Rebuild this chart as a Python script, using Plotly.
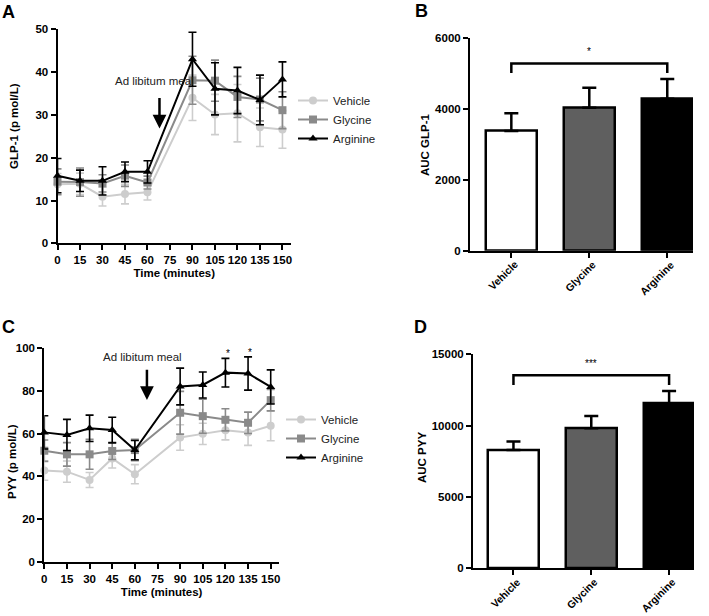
import plotly.graph_objects as go

W, H = 709, 616

# ---------------- data ----------------
time_min = [0, 15, 30, 45, 60, 90, 105, 120, 135, 150]
groups = ["Vehicle", "Glycine", "Arginine"]

glp1_vehicle = [13.8, 13.9, 10.9, 11.5, 11.9, 34.0, 30.1, 30.4, 27.1, 26.6]
glp1_vehicle_sem = [2.5, 2.5, 2.2, 2.3, 1.8, 5.3, 4.7, 6.7, 4.5, 4.4]
glp1_glycine = [14.4, 14.3, 14.0, 15.8, 14.2, 38.1, 38.0, 34.2, 33.6, 31.1]
glp1_glycine_sem = [3.0, 3.3, 2.0, 2.5, 1.5, 5.6, 4.8, 4.8, 5.0, 4.3]
glp1_arginine = [15.8, 14.6, 14.6, 16.7, 16.7, 43.0, 36.1, 35.7, 33.5, 38.3]
glp1_arginine_sem = [4.0, 2.5, 3.3, 2.3, 2.6, 6.3, 6.1, 5.4, 5.8, 4.1]

pyy_vehicle = [42.7, 42.2, 38.3, 48.4, 41.0, 58.2, 59.9, 61.6, 60.5, 63.7]
pyy_vehicle_sem = [4.5, 5.0, 3.5, 4.5, 4.5, 6.0, 5.0, 4.5, 6.0, 7.0]
pyy_glycine = [52.0, 50.3, 50.3, 51.9, 52.3, 69.8, 68.2, 66.5, 65.1, 75.7]
pyy_glycine_sem = [5.0, 5.5, 7.0, 4.0, 5.0, 10.0, 8.0, 5.2, 5.0, 5.0]
pyy_arginine = [60.6, 59.4, 62.5, 61.7, 52.3, 82.1, 82.8, 88.6, 88.2, 81.9]
pyy_arginine_sem = [7.8, 7.3, 6.2, 6.0, 4.5, 8.6, 6.1, 6.7, 7.8, 8.0]
pyy_sig_times = [120, 135]

auc_glp1 = [3370, 4030, 4280]
auc_glp1_sem = [500, 560, 555]
auc_pyy = [8290, 9810, 11570]
auc_pyy_sem = [590, 870, 860]

x_ticks = [0, 15, 30, 45, 60, 75, 90, 105, 120, 135, 150]

# ---------------- style ----------------
FONT = "Liberation Sans, Arial, sans-serif"
line_colors = {"Vehicle": "#cdcdcd", "Glycine": "#8a8a8a", "Arginine": "#000000"}
symbols = {"Vehicle": "circle", "Glycine": "square", "Arginine": "triangle-up"}
bar_colors = ["#ffffff", "#5f5f5f", "#000000"]


def px_x(p):
    return p / W


def px_y(p):
    return 1 - p / H


fig = go.Figure()

series_a = [(glp1_vehicle, glp1_vehicle_sem), (glp1_glycine, glp1_glycine_sem),
            (glp1_arginine, glp1_arginine_sem)]
series_c = [(pyy_vehicle, pyy_vehicle_sem), (pyy_glycine, pyy_glycine_sem),
            (pyy_arginine, pyy_arginine_sem)]

for (xa, ya, leg, series) in [("x", "y", "legend", series_a), ("x3", "y3", "legend2", series_c)]:
    for g, (vals, sem) in zip(groups, series):
        c = line_colors[g]
        fig.add_trace(go.Scatter(
            x=time_min, y=vals, mode="lines+markers", name=g,
            xaxis=xa, yaxis=ya, legend=leg, cliponaxis=False,
            line=dict(color=c, width=2),
            marker=dict(symbol=symbols[g], size=8, color=c),
            error_y=dict(type="data", array=sem, color=c, thickness=1.6, width=4),
        ))

# bar charts
for (xa, ya, vals, sem) in [("x2", "y2", auc_glp1, auc_glp1_sem), ("x4", "y4", auc_pyy, auc_pyy_sem)]:
    fig.add_trace(go.Bar(
        x=groups, y=vals, xaxis=xa, yaxis=ya, showlegend=False, width=0.65,
        marker=dict(color=bar_colors, line=dict(color="black", width=2.5)),
        error_y=dict(type="data", array=sem, arrayminus=[0] * len(sem), symmetric=False,
                     color="black", thickness=2.5, width=7),
    ))

tickfont = dict(family=FONT, size=11.5, color="black", weight="bold")
bartickfont = dict(family=FONT, size=10.5, color="black", weight="bold")
titlefont = dict(family=FONT, size=11.5, color="black", weight="bold")
common = dict(showline=True, linecolor="black", linewidth=2, ticks="outside",
              ticklen=5, tickwidth=2, tickcolor="black", showgrid=False,
              zeroline=False, automargin=False)

layout = dict(
    width=W, height=H, margin=dict(l=0, r=0, t=0, b=0),
    paper_bgcolor="white", plot_bgcolor="white",
    font=dict(family=FONT, color="black"),
    bargap=0,
    # Panel A
    xaxis=dict(domain=[px_x(57.5), px_x(291)], range=[0, 155.7], tickvals=x_ticks,
               title=dict(text="Time (minutes)", font=titlefont, standoff=4),
               tickfont=tickfont, anchor="y", **common),
    yaxis=dict(domain=[px_y(243.3), px_y(29.3)], range=[0, 50], tickvals=[0, 10, 20, 30, 40, 50],
               tickfont=tickfont, anchor="x", **common),
    # Panel B
    xaxis2=dict(domain=[px_x(470), px_x(693)], range=[-0.53, 2.33], type="category",
                showticklabels=False, anchor="y2", **common),
    yaxis2=dict(domain=[px_y(250.7), px_y(37.7)], range=[0, 6000], tickvals=[0, 2000, 4000, 6000],
                tickformat="d", tickfont=tickfont, anchor="x2", **common),
    # Panel C
    xaxis3=dict(domain=[px_x(44.3), px_x(279)], range=[0, 155.5], tickvals=x_ticks,
                title=dict(text="Time (minutes)", font=titlefont, standoff=4),
                tickfont=tickfont, anchor="y3", **common),
    yaxis3=dict(domain=[px_y(561.7), px_y(348.3)], range=[0, 100], tickvals=[0, 20, 40, 60, 80, 100],
                tickfont=tickfont, anchor="x3", **common),
    # Panel D
    xaxis4=dict(domain=[px_x(473), px_x(694)], range=[-0.52, 2.32], type="category",
                showticklabels=False, anchor="y4", **common),
    yaxis4=dict(domain=[px_y(568.3), px_y(354.3)], range=[0, 15000], tickvals=[0, 5000, 10000, 15000],
                tickformat="d", tickfont=tickfont, anchor="x4", **common),
    legend=dict(x=px_x(293), y=px_y(86), xanchor="left", yanchor="top",
                font=dict(family=FONT, size=11.5, color="#222"), itemwidth=30,
                bgcolor="rgba(0,0,0,0)", tracegroupgap=0),
    legend2=dict(x=px_x(281), y=px_y(405), xanchor="left", yanchor="top",
                 font=dict(family=FONT, size=11.5, color="#222"), itemwidth=30,
                 bgcolor="rgba(0,0,0,0)", tracegroupgap=0),
)
fig.update_layout(**layout)

annotations = []
# rotated category labels for the bar charts
for xa, ya in [("x2", "y2"), ("x4", "y4")]:
    for i, g in enumerate(groups):
        annotations.append(dict(text=g, x=i + 0.13, y=0, xref=xa, yref=ya, yshift=-6,
                                showarrow=False, textangle=-45, xanchor="right", yanchor="top",
                                borderpad=0, font=bartickfont))

# panel letters
for letter, (lx, ly) in {"A": (8, 12), "B": (421, 11), "C": (8, 327), "D": (420, 327)}.items():
    annotations.append(dict(text=letter, x=px_x(lx), y=px_y(ly), xref="paper", yref="paper",
                            showarrow=False, xanchor="center", yanchor="middle",
                            font=dict(family=FONT, size=18, color="black", weight="bold")))

# y-axis titles
for text, (tx, ty) in {"GLP-1 (p mol/L)": (14, 126), "AUC GLP-1": (425, 144),
                       "PYY (p mol/L)": (12, 462), "AUC PYY": (422, 458)}.items():
    annotations.append(dict(text=text, x=px_x(tx), y=px_y(ty), xref="paper", yref="paper",
                            showarrow=False, textangle=-90, xanchor="center", yanchor="middle",
                            font=titlefont))

# meal annotations
MEAL_T = 68
for xa, ya, ty, a_top, a_bot in [("x", "y", 38.0, 34.3, 26.8), ("x3", "y3", 95.8, 90.6, 75.8)]:
    annotations.append(dict(text="Ad libitum meal", x=MEAL_T - 3, y=ty, xref=xa, yref=ya,
                            showarrow=False, font=dict(family=FONT, size=11.5, color="#222")))
    annotations.append(dict(text="", x=MEAL_T, y=a_bot, ax=MEAL_T, ay=a_top, xref=xa, yref=ya,
                            axref=xa, ayref=ya, showarrow=True, arrowhead=2, arrowsize=1.1,
                            arrowwidth=2.5, arrowcolor="black"))

# significance stars on PYY time course
for t in pyy_sig_times:
    i = time_min.index(t)
    annotations.append(dict(text="*", x=t + 1.5, y=pyy_arginine[i] + pyy_arginine_sem[i] + 2.2,
                            xref="x3", yref="y3", showarrow=False,
                            font=dict(family=FONT, size=10, color="black")))

shapes = []
# brackets on bar charts
for xa, ya, vals, sem, ymax, label in [("x2", "y2", auc_glp1, auc_glp1_sem, 6000, "*"),
                                       ("x4", "y4", auc_pyy, auc_pyy_sem, 15000, "***")]:
    top = max(v + s for v, s in zip(vals, sem))
    by = top + 0.073 * ymax
    leg = 0.045 * ymax
    shapes.append(dict(type="path", xref=xa, yref=ya,
                       path=f"M 0,{by - leg} L 0,{by} L 2,{by} L 2,{by - leg}",
                       line=dict(color="black", width=2.5)))
    annotations.append(dict(text=label, x=1, y=by + 0.02 * ymax, xref=xa, yref=ya,
                            showarrow=False, yanchor="bottom",
                            font=dict(family=FONT, size=10, color="black")))

fig.update_layout(annotations=annotations, shapes=shapes)
fig.write_html("out.html", config={"displayModeBar": False},
               post_script="document.body.style.margin='0';document.body.style.overflow='hidden';")
